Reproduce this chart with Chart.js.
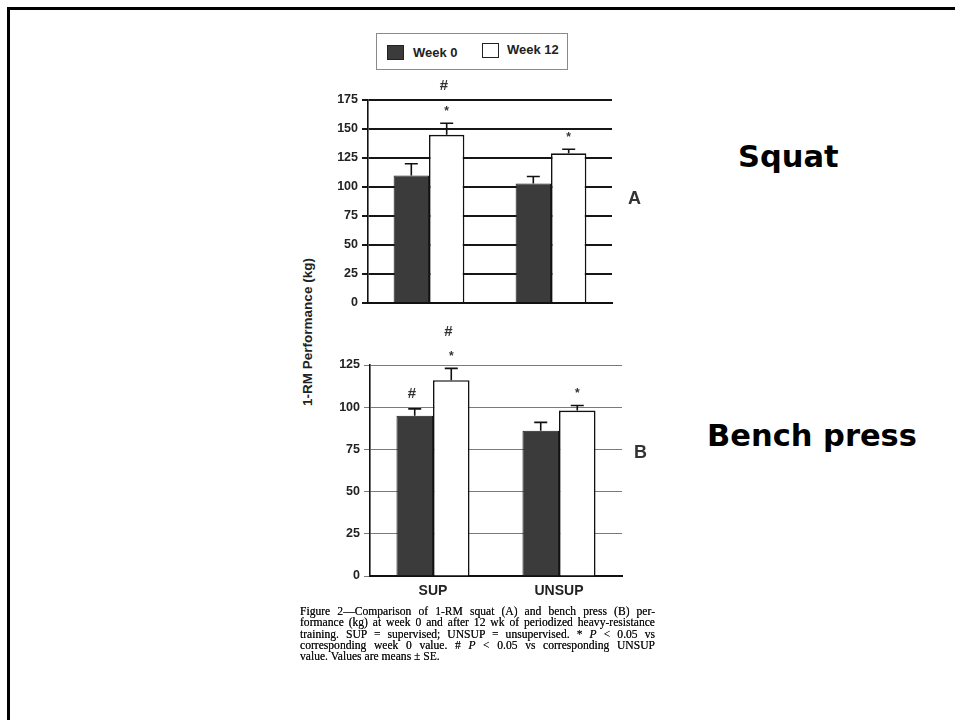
<!DOCTYPE html>
<html>
<head>
<meta charset="utf-8">
<script src="https://cdn.jsdelivr.net/npm/chart.js@4.4.1/dist/chart.umd.min.js"></script>
<style>
  html, body { margin: 0; padding: 0; background: #fff; }
  body { width: 955px; height: 720px; position: relative; overflow: hidden; font-family: "Liberation Sans", Arial, sans-serif; }
  .frame { position: absolute; left: 7px; top: 7px; width: 960px; height: 730px; border-top: 3px solid #000; border-left: 3px solid #000; }
  canvas { position: absolute; }
  .legend { position: absolute; left: 376px; top: 33px; width: 190px; height: 35px; border: 1px solid #8a8a8a; }
  .sw { position: absolute; width: 17px; height: 15px; box-sizing: border-box; border: 1px solid #222; }
  .lt { position: absolute; font: bold 13px "Liberation Sans", Arial, sans-serif; color: #222; line-height: 15px; white-space: nowrap; }
  .ytitle { position: absolute; left: 307px; top: 332px; transform: translate(-50%, -50%) rotate(-90deg); font: bold 13.5px "Liberation Sans", Arial, sans-serif; color: #222; white-space: nowrap; }
  .panel { position: absolute; font: bold 18px "Liberation Sans", Arial, sans-serif; color: #333; line-height: 18px; }
  .big { position: absolute; font: bold 30.5px "DejaVu Sans", Verdana, sans-serif; color: #000; line-height: 30px; white-space: nowrap; }
  .caption { position: absolute; left: 300px; top: 606px; width: 355px; font: 11.6px "Liberation Serif", "Times New Roman", serif; color: #111; line-height: 11.3px; text-shadow: 0 0 0.5px #333; }
  .caption div { white-space: nowrap; }
</style>
</head>
<body>
<div class="frame"></div>

<div class="legend" id="legend"></div>
<div class="ytitle">1-RM Performance (kg)</div>

<canvas id="squat" width="340" height="260" style="left:290px; top:60px;"></canvas>
<canvas id="bench" width="340" height="300" style="left:290px; top:310px;"></canvas>

<div class="panel" style="left:628px; top:189px;">A</div>
<div class="panel" style="left:634px; top:443px;">B</div>

<div class="big" style="left:738px; top:142px;">Squat</div>
<div class="big" style="left:707px; top:421px;">Bench press</div>

<div class="caption" id="caption"></div>

<script>
// Groups and series
const groups = ['SUP', 'UNSUP'];
const seriesNames = ['Week 0', 'Week 12'];

// Squat 1-RM (kg): means and standard errors
const squatWeek0 = [110, 103];
const squatWeek0SE = [10, 6];
const squatWeek12 = [145, 129];
const squatWeek12SE = [10, 3.5];

// Bench press 1-RM (kg): means and standard errors
const benchWeek0 = [95, 86];
const benchWeek0SE = [4, 5];
const benchWeek12 = [116, 98];
const benchWeek12SE = [7, 3];

// Significance symbols above each bar (listed bottom to top)
const squatWeek0Marks = [[], []];
const squatWeek12Marks = [['*', '#'], ['*']];
const benchWeek0Marks = [['#'], []];
const benchWeek12Marks = [['*', '#'], ['*']];

// Axis tick values
const squatTicks = [0, 25, 50, 75, 100, 125, 150, 175];
const benchTicks = [0, 25, 50, 75, 100, 125];

const figureCaption = [
  'Figure 2\u2014Comparison of 1-RM squat (A) and bench press (B) per-',
  'formance (kg) at week 0 and after 12 wk of periodized heavy-resistance',
  'training. SUP = supervised; UNSUP = unsupervised. * <i>P</i> &lt; 0.05 vs',
  'corresponding week 0 value. # <i>P</i> &lt; 0.05 vs corresponding UNSUP',
  'value. Values are means \u00b1 SE.'
];

const DARK = '#3b3b3b';

// Legend built from the series names
(function () {
  const lg = document.getElementById('legend');
  const fills = [DARK, '#ffffff'];
  const swX = [10, 105], txX = [36, 130], swY = [11, 9], txY = [11, 8];
  seriesNames.forEach((name, k) => {
    const sw = document.createElement('div');
    sw.className = 'sw';
    sw.style.left = swX[k] + 'px'; sw.style.top = swY[k] + 'px';
    sw.style.background = fills[k];
    lg.appendChild(sw);
    const t = document.createElement('div');
    t.className = 'lt';
    t.style.left = txX[k] + 'px'; t.style.top = txY[k] + 'px';
    t.textContent = name;
    lg.appendChild(t);
  });
})();

// Caption lines, justified by adjusting word spacing (last line left as is)
(function () {
  const cap = document.getElementById('caption');
  const full = 355;
  figureCaption.forEach((line, k) => {
    const d = document.createElement('div');
    const s = document.createElement('span');
    s.innerHTML = line;
    d.appendChild(s);
    cap.appendChild(d);
    if (k < figureCaption.length - 1) {
      const gaps = (s.textContent.match(/ /g) || []).length;
      const w = s.getBoundingClientRect().width;
      if (gaps > 0) s.style.wordSpacing = ((full - w) / gaps) + 'px';
    }
  });
})();

// Error bars (upper half only) and significance symbols
const errorBarPlugin = {
  id: 'errorBars',
  afterDatasetsDraw(chart) {
    const ctx = chart.ctx;
    const yScale = chart.scales.y;
    chart.data.datasets.forEach((ds, di) => {
      const meta = chart.getDatasetMeta(di);
      meta.data.forEach((bar, i) => {
        const top = yScale.getPixelForValue(ds.data[i] + ds.errors[i]);
        ctx.save();
        ctx.strokeStyle = '#111';
        ctx.lineWidth = 1.6;
        ctx.beginPath();
        ctx.moveTo(bar.x, bar.y);
        ctx.lineTo(bar.x, top);
        ctx.moveTo(bar.x - 6.5, top);
        ctx.lineTo(bar.x + 6.5, top);
        ctx.stroke();
        let yy = top - 15;
        (ds.marks[i] || []).forEach((m) => {
          ctx.fillStyle = '#333';
          ctx.textAlign = 'center';
          ctx.textBaseline = 'middle';
          ctx.font = m === '#' ? 'italic bold 15px "Liberation Sans", Arial' : 'bold 12px "Liberation Sans", Arial';
          ctx.fillText(m, bar.x - (m === '#' ? 3 : 0), m === '*' ? yy + 3 : yy);
          yy -= 22;
        });
        ctx.restore();
      });
    });
  }
};

function makeChart(id, w0, w0se, w0m, w12, w12se, w12m, ticks, opts) {
  const maxV = ticks[ticks.length - 1];
  return new Chart(document.getElementById(id), {
    type: 'bar',
    data: {
      labels: groups,
      datasets: [
        { label: seriesNames[0], data: w0, errors: w0se, marks: w0m,
          backgroundColor: DARK, borderColor: '#1c1c1c', borderWidth: 1 },
        { label: seriesNames[1], data: w12, errors: w12se, marks: w12m,
          backgroundColor: '#ffffff', borderColor: '#111', borderWidth: 1.6 }
      ]
    },
    options: {
      responsive: false,
      animation: false,
      devicePixelRatio: 1,
      layout: { padding: opts.padding },
      plugins: { legend: { display: false }, tooltip: { enabled: false } },
      datasets: { bar: { categoryPercentage: 0.58, barPercentage: 1.0 } },
      scales: {
        x: {
          grid: { display: false, drawTicks: false },
          border: { display: true, color: '#111', width: 2 },
          ticks: {
            display: opts.showX,
            padding: 7,
            color: '#222',
            font: { family: '"Liberation Sans", Arial, sans-serif', size: 14, weight: 'bold' }
          },
          afterFit(s) { s.height = opts.xHeight; }
        },
        y: {
          min: 0,
          max: maxV,
          afterBuildTicks(s) { s.ticks = ticks.map((v) => ({ value: v })); },
          grid: { color: opts.gridColor, lineWidth: opts.gridWidth, tickLength: 6, drawOnChartArea: true },
          border: { display: true, color: '#111', width: 1.6 },
          ticks: {
            padding: 4,
            color: '#222',
            font: { family: '"Liberation Sans", Arial, sans-serif', size: 12.5, weight: 'bold' }
          },
          afterFit(s) { s.width = opts.yWidth; }
        }
      }
    },
    plugins: [errorBarPlugin]
  });
}

// Panel A: squat
makeChart('squat', squatWeek0, squatWeek0SE, squatWeek0Marks,
  squatWeek12, squatWeek12SE, squatWeek12Marks, squatTicks,
  { padding: { top: 40, right: 18, bottom: 17, left: 0 }, showX: false, xHeight: 0,
    yWidth: 78, gridColor: '#161616', gridWidth: 2 });

// Panel B: bench press
makeChart('bench', benchWeek0, benchWeek0SE, benchWeek0Marks,
  benchWeek12, benchWeek12SE, benchWeek12Marks, benchTicks,
  { padding: { top: 55, right: 8, bottom: 4, left: 0 }, showX: true, xHeight: 30,
    yWidth: 80, gridColor: '#7a7a7a', gridWidth: 1 });
</script>
</body>
</html>
